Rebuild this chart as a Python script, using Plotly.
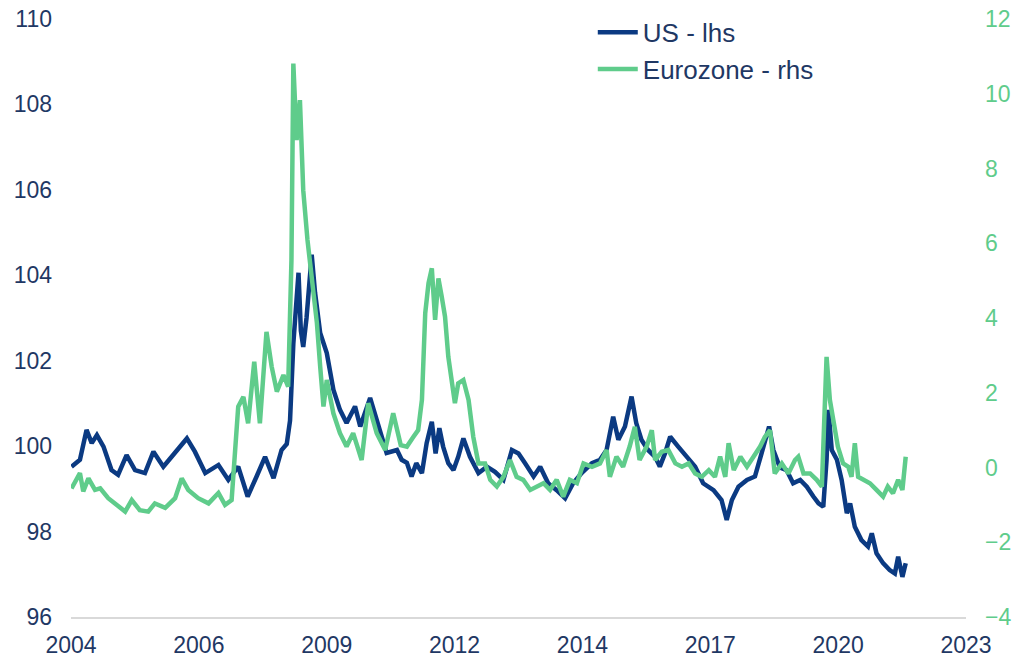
import plotly.graph_objects as go

# ---- data (decimal years) ----
us_t = [2004.01, 2004.19, 2004.33, 2004.44, 2004.55, 2004.69, 2004.86, 2005.00, 2005.18, 2005.36,
        2005.57, 2005.75, 2005.96, 2006.21, 2006.46, 2006.63, 2006.85, 2007.13, 2007.34, 2007.55,
        2007.75, 2007.94, 2008.12, 2008.30, 2008.47, 2008.58, 2008.65, 2008.72, 2008.79, 2008.83,
        2008.88, 2008.93, 2009.00, 2009.11, 2009.18, 2009.29, 2009.43, 2009.57, 2009.71, 2009.85,
        2010.03, 2010.14, 2010.35, 2010.52, 2010.70, 2010.92, 2011.02, 2011.13, 2011.23, 2011.33,
        2011.45, 2011.55, 2011.66, 2011.74, 2011.82, 2011.90, 2012.01, 2012.12, 2012.22, 2012.33,
        2012.47, 2012.65, 2012.83, 2013.00, 2013.18, 2013.36, 2013.50, 2013.64, 2013.82, 2013.96,
        2014.13, 2014.31, 2014.49, 2014.66, 2014.84, 2015.06, 2015.23, 2015.37, 2015.51, 2015.62,
        2015.76, 2015.90, 2016.00, 2016.11, 2016.25, 2016.40, 2016.50, 2016.61, 2016.72, 2016.89,
        2017.07, 2017.25, 2017.42, 2017.64, 2017.81, 2017.92, 2018.03, 2018.17, 2018.35, 2018.52,
        2018.66, 2018.82, 2018.91, 2019.05, 2019.19, 2019.33, 2019.48, 2019.62, 2019.76, 2019.87,
        2019.97, 2020.04, 2020.08, 2020.15, 2020.26, 2020.36, 2020.47, 2020.54, 2020.64, 2020.78,
        2020.92, 2021.00, 2021.10, 2021.24, 2021.38, 2021.49, 2021.56, 2021.65, 2021.72]
us_v = [99.52, 99.68, 100.38, 100.07, 100.26, 99.99, 99.44, 99.33, 99.79, 99.44,
        99.37, 99.87, 99.52, 99.84, 100.18, 99.87, 99.37, 99.56, 99.21, 99.52,
        98.82, 99.29, 99.75, 99.25, 99.91, 100.05, 100.6, 102.4, 103.6, 104.06,
        102.7, 102.32, 103.0, 104.48, 103.6, 102.65, 102.18, 101.32, 100.85, 100.54,
        100.93, 100.46, 101.13, 100.46, 99.84, 99.91, 99.68, 99.61, 99.29, 99.60,
        99.37, 100.07, 100.57, 99.83, 100.42, 99.99, 99.60, 99.44, 99.75, 100.18,
        99.75, 99.37, 99.52, 99.40, 99.21, 99.91, 99.83, 99.60, 99.29, 99.52,
        99.13, 98.97, 98.78, 99.13, 99.37, 99.60, 99.68, 99.91, 100.69, 100.15,
        100.46, 101.16, 100.54, 100.15, 99.91, 99.75, 99.52, 99.83, 100.22, 99.99,
        99.75, 99.52, 99.13, 98.97, 98.74, 98.27, 98.74, 99.05, 99.21, 99.29,
        99.83, 100.46, 99.91, 99.50, 99.44, 99.13, 99.21, 99.05, 98.82, 98.66,
        98.58, 99.68, 100.85, 99.91, 99.68, 99.21, 98.43, 98.66, 98.11, 97.80,
        97.65, 97.96, 97.49, 97.26, 97.10, 97.02, 97.41, 96.94, 97.26]

ez_t = [2004.01, 2004.19, 2004.26, 2004.37, 2004.51, 2004.62, 2004.79, 2004.97, 2005.15, 2005.29,
        2005.46, 2005.64, 2005.78, 2006.00, 2006.21, 2006.35, 2006.49, 2006.70, 2006.92, 2007.13,
        2007.27, 2007.41, 2007.48, 2007.55, 2007.66, 2007.76, 2007.89, 2008.01, 2008.15, 2008.26,
        2008.37, 2008.51, 2008.61, 2008.68, 2008.72, 2008.79, 2008.86, 2008.93, 2009.02, 2009.11,
        2009.22, 2009.29, 2009.36, 2009.43, 2009.57, 2009.71, 2009.85, 2009.99, 2010.17, 2010.31,
        2010.49, 2010.67, 2010.84, 2011.00, 2011.13, 2011.27, 2011.37, 2011.45, 2011.52, 2011.59,
        2011.66, 2011.73, 2011.80, 2011.87, 2011.94, 2012.01, 2012.08, 2012.15, 2012.22, 2012.33,
        2012.44, 2012.54, 2012.65, 2012.79, 2012.90, 2013.04, 2013.18, 2013.32, 2013.46, 2013.60,
        2013.75, 2013.89, 2014.03, 2014.17, 2014.31, 2014.45, 2014.59, 2014.74, 2014.88, 2015.06,
        2015.23, 2015.37, 2015.44, 2015.58, 2015.72, 2015.86, 2015.97, 2016.07, 2016.22, 2016.33,
        2016.40, 2016.54, 2016.68, 2016.83, 2016.97, 2017.11, 2017.25, 2017.39, 2017.54, 2017.67,
        2017.78, 2017.89, 2017.96, 2018.07, 2018.21, 2018.35, 2018.49, 2018.63, 2018.73, 2018.84,
        2018.94, 2019.09, 2019.23, 2019.37, 2019.44, 2019.55, 2019.69, 2019.83, 2019.94, 2020.01,
        2020.04, 2020.11, 2020.18, 2020.28, 2020.39, 2020.50, 2020.57, 2020.64, 2020.71, 2020.81,
        2020.96, 2021.10, 2021.24, 2021.34, 2021.45, 2021.56, 2021.65, 2021.72]
ez_v = [-0.56, -0.15, -0.64, -0.29, -0.60, -0.56, -0.82, -1.00, -1.18, -0.87,
        -1.14, -1.18, -0.96, -1.08, -0.82, -0.29, -0.60, -0.82, -0.96, -0.68,
        -1.00, -0.87, 0.20, 1.63, 1.89, 1.18, 2.83, 1.18, 3.63, 2.70,
        2.03, 2.47, 2.16, 5.55, 10.81, 8.76, 9.83, 7.42, 6.09, 5.02,
        3.87, 2.70, 1.63, 2.34, 1.45, 0.92, 0.56, 0.92, 0.20, 1.72,
        0.92, 0.47, 1.45, 0.60, 0.56, 0.82, 1.00, 1.81, 4.13, 4.93,
        5.33, 3.95, 5.06, 4.57, 4.04, 2.96, 2.25, 1.72, 2.25, 2.34,
        1.81, 0.82, 0.11, 0.11, -0.33, -0.51, -0.25, 0.20, -0.25, -0.33,
        -0.60, -0.51, -0.42, -0.60, -0.33, -0.78, -0.33, -0.42, 0.11, 0.02,
        0.11, 0.47, -0.25, 0.29, 0.02, 0.56, 1.09, 0.20, 0.56, 1.00,
        0.20, 0.42, 0.47, 0.11, 0.02, 0.11, -0.16, -0.25, -0.07, -0.25,
        0.29, -0.25, 0.65, -0.07, 0.29, 0.02, 0.29, 0.56, 0.82, 1.00,
        -0.16, 0.11, -0.16, 0.20, 0.29, -0.16, -0.16, -0.33, -0.51, 2.07,
        2.96, 1.81, 1.36, 0.56, 0.11, 0.02, -0.25, 0.65, -0.25, -0.33,
        -0.42, -0.60, -0.78, -0.51, -0.69, -0.33, -0.60, 0.29]

x_start, x_end, n_int = 2004, 2023, 7
x_tick_labels = ["2004", "2006", "2009", "2012", "2014", "2017", "2020", "2023"]
x_tick_vals = [x_start + k * (x_end - x_start) / n_int for k in range(n_int + 1)]

NAVY = "#0B3A82"
GREEN = "#5FCC8B"
TEXT = "#1F3864"
FONT = "Liberation Sans, Arial, sans-serif"

fig = go.Figure()
fig.add_trace(go.Scatter(x=us_t, y=us_v, name="US - lhs", mode="lines",
                         line=dict(color=NAVY, width=4.5), yaxis="y"))
fig.add_trace(go.Scatter(x=ez_t, y=ez_v, name="Eurozone - rhs", mode="lines",
                         line=dict(color=GREEN, width=4.5), yaxis="y2"))

fig.update_layout(
    width=1012, height=658,
    margin=dict(l=71, r=46, t=19, b=41, autoexpand=False),
    paper_bgcolor="white", plot_bgcolor="white",
    font=dict(family=FONT, color=TEXT, size=23),
    showlegend=True,
    legend=dict(x=0.583, y=1.017, xanchor="left", yanchor="top",
                bgcolor="rgba(0,0,0,0)", font=dict(size=26, color=TEXT),
                tracegroupgap=0, itemwidth=40),
    xaxis=dict(range=[x_start, x_end], tickmode="array", tickvals=x_tick_vals,
               ticktext=x_tick_labels, showgrid=False, zeroline=False,
               showline=True, linecolor="#D9D9D9", linewidth=2, ticks="",
               tickfont=dict(size=23, color=TEXT), ticklabelstandoff=6,
               automargin=False),
    yaxis=dict(range=[96, 110], dtick=2, showgrid=False, zeroline=False,
               showline=False, ticks="", tickfont=dict(size=23, color=TEXT),
               ticklabelstandoff=18, automargin=False),
    yaxis2=dict(range=[-4, 12], dtick=2, overlaying="y", side="right",
                showgrid=False, zeroline=False, showline=False, ticks="",
                tickfont=dict(size=23, color=GREEN), ticklabelstandoff=18,
                automargin=False),
)

fig.write_html("out.html", config={"displayModeBar": False},
               post_script="document.body.style.margin='0';document.body.style.overflow='hidden';")
